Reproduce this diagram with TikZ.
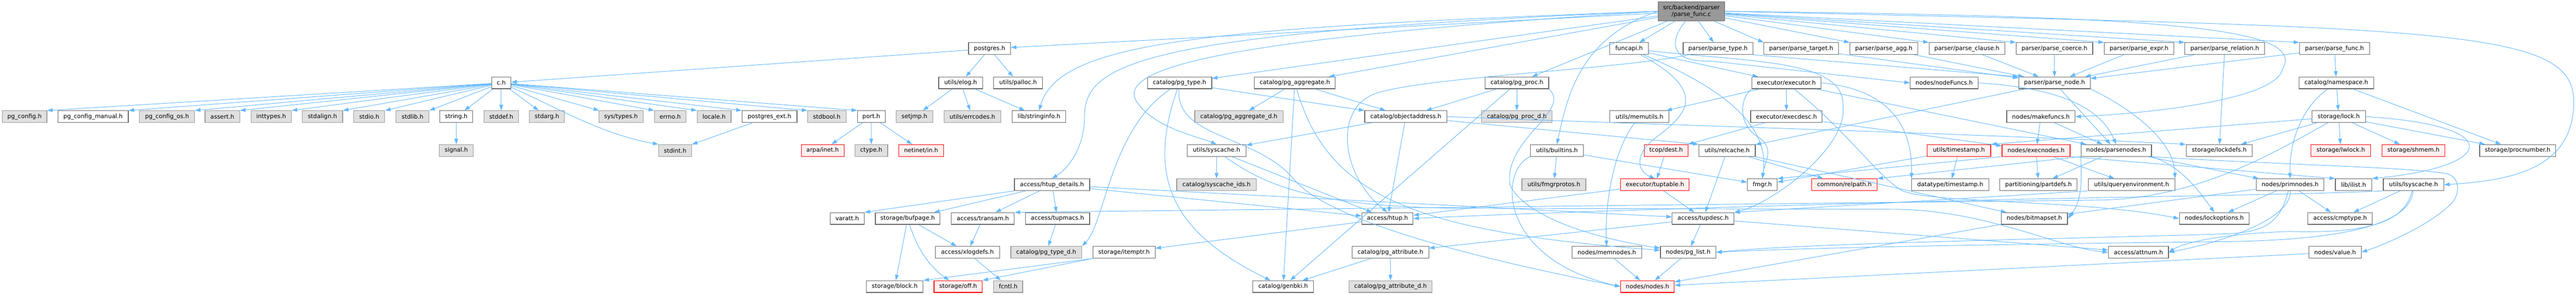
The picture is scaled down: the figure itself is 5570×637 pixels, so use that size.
\documentclass[tikz,border=0pt]{standalone}
\usepackage{fontspec}
\setmainfont{DejaVu Sans}
\usepackage{xcolor}
\definecolor{doxyedge}{HTML}{63B8FF}
\definecolor{doxyborder}{HTML}{666666}
\definecolor{doxysysfill}{HTML}{E0E0E0}
\definecolor{doxysysborder}{HTML}{999999}
\definecolor{doxycutfill}{HTML}{FFF0F0}
\definecolor{doxyrootfill}{HTML}{999999}
\usepackage{tikz}
\usetikzlibrary{%
      arrows.meta%
  }

\tikzset{
    hdrbase/.style={rectangle, inner sep=0pt, minimum height=19pt, line width=1pt, font=\fontsize{9.6}{11.3}\selectfont},
    hdr/.style={hdrbase, draw=doxyborder, fill=white},
    syshdr/.style={hdrbase, draw=doxysysborder, fill=doxysysfill},
    cuthdr/.style={hdrbase, draw=red, fill=doxycutfill},
    roothdr/.style={hdrbase, draw=doxyborder, fill=doxyrootfill, align=center, minimum height=30.5pt},
    dep/.style={draw=doxyedge, line width=0.8pt, -{Triangle[length=9pt,width=6pt]}}
}

\begin{document}
\begin{tikzpicture}[x=0.75pt, y=-0.75pt]
    \useasboundingbox (0,0) rectangle (5570,637);
    \fill[white] (0,0) rectangle (5570,637);

    % rank 0
    \node[roothdr, minimum width=108.2pt] (pf) at (3657.2,24.4) {src/backend/parser\\/parse\_func.c};

    % rank 1
    \node[hdr, minimum width=68pt] (postgres) at (2139.7,105) {postgres.h};
    \node[hdr, minimum width=62.3pt] (funcapi) at (3522.5,105) {funcapi.h};
    \node[hdr, minimum width=113pt] (parsetype) at (3714.7,105) {parser/parse\_type.h};
    \node[hdr, minimum width=120.8pt] (parsetarget) at (3894.5,105) {parser/parse\_target.h};
    \node[hdr, minimum width=110pt] (parseagg) at (4073.3,105) {parser/parse\_agg.h};
    \node[hdr, minimum width=123pt] (parseclause) at (4253,105) {parser/parse\_clause.h};
    \node[hdr, minimum width=124pt] (parsecoerce) at (4442.3,105) {parser/parse\_coerce.h};
    \node[hdr, minimum width=112.7pt] (parseexpr) at (4625.2,105) {parser/parse\_expr.h};
    \node[hdr, minimum width=129.3pt] (parserel) at (4810.5,105) {parser/parse\_relation.h};
    \node[hdr, minimum width=113.3pt] (parsefunch) at (5047.8,105) {parser/parse\_func.h};

    % rank 2
    \node[hdr, minimum width=31.3pt] (ch) at (1083.8,179) {c.h};
    \node[hdr, minimum width=71.3pt] (elog) at (2077.2,179) {utils/elog.h};
    \node[hdr, minimum width=79pt] (palloc) at (2201.3,179) {utils/palloc.h};
    \node[hdr, minimum width=104.3pt] (pgtype) at (2550.5,179) {catalog/pg\_type.h};
    \node[hdr, minimum width=131.3pt] (pgagg) at (2799.8,179) {catalog/pg\_aggregate.h};
    \node[hdr, minimum width=103pt] (pgproc) at (3280,179) {catalog/pg\_proc.h};
    \node[hdr, minimum width=112.2pt] (executor) at (3862.5,179) {executor/executor.h};
    \node[hdr, minimum width=110pt] (nodefuncs) at (4203.7,179) {nodes/nodeFuncs.h};
    \node[hdr, minimum width=116pt] (parsenode) at (4442.3,179) {parser/parse\_node.h};
    \node[hdr, minimum width=121.3pt] (namespace) at (5051.8,179) {catalog/namespace.h};

    % rank 3
    \node[syshdr, minimum width=72.5pt] (pgconfig) at (53,252) {pg\_config.h};
    \node[hdr, minimum width=114.2pt] (pgconfigman) at (201.2,252) {pg\_config\_manual.h};
    \node[syshdr, minimum width=89.3pt] (pgconfigos) at (361.2,252) {pg\_config\_os.h};
    \node[syshdr, minimum width=56.3pt] (assert) at (480.8,252) {assert.h};
    \node[syshdr, minimum width=65.3pt] (inttypes) at (586.5,252) {inttypes.h};
    \node[syshdr, minimum width=65.3pt] (stdalign) at (697.2,252) {stdalign.h};
    \node[syshdr, minimum width=50.3pt] (stdio) at (798.5,252) {stdio.h};
    \node[syshdr, minimum width=53.6pt] (stdlib) at (892,252) {stdlib.h};
    \node[hdr, minimum width=53.3pt] (string) at (986.5,252) {string.h};
    \node[syshdr, minimum width=56.3pt] (stddef) at (1083.8,252) {stddef.h};
    \node[syshdr, minimum width=56.5pt] (stdarg) at (1182.7,252) {stdarg.h};
    \node[syshdr, minimum width=72pt] (systypes) at (1342.7,252) {sys/types.h};
    \node[syshdr, minimum width=51.2pt] (errno) at (1449.2,252) {errno.h};
    \node[syshdr, minimum width=55pt] (locale) at (1544,252) {locale.h};
    \node[hdr, minimum width=89.3pt] (pgext) at (1663.8,252) {postgres\_ext.h};
    \node[syshdr, minimum width=62.3pt] (stdbool) at (1787.8,252) {stdbool.h};
    \node[hdr, minimum width=45pt] (port) at (1884,252) {port.h};
    \node[syshdr, minimum width=59.3pt] (setjmp) at (1977.2,252) {setjmp.h};
    \node[syshdr, minimum width=92.3pt] (errcodes) at (2102.5,252) {utils/errcodes.h};
    \node[hdr, minimum width=87pt] (stringinfo) at (2246.7,252) {lib/stringinfo.h};
    \node[syshdr, minimum width=143pt] (pgaggd) at (2678.7,252) {catalog/pg\_aggregate\_d.h};
    \node[hdr, minimum width=133.3pt] (objaddr) at (3039.8,252) {catalog/objectaddress.h};
    \node[syshdr, minimum width=114.2pt] (pgprocd) at (3279.8,252) {catalog/pg\_proc\_d.h};
    \node[hdr, minimum width=96pt] (memutils) at (3545,252) {utils/memutils.h};
    \node[hdr, minimum width=116pt] (execdesc) at (3862.7,252) {executor/execdesc.h};
    \node[hdr, minimum width=111pt] (makefuncs) at (4413,252) {nodes/makefuncs.h};
    \node[hdr, minimum width=86.4pt] (lock) at (5056.9,252) {storage/lock.h};

    % rank 4
    \node[syshdr, minimum width=55.2pt] (signal) at (986.5,325) {signal.h};
    \node[syshdr, minimum width=53.3pt] (stdint) at (1459.8,325) {stdint.h};
    \node[cuthdr, minimum width=69.5pt] (arpa) at (1778.7,325) {arpa/inet.h};
    \node[syshdr, minimum width=53.3pt] (ctype) at (1883.8,325) {ctype.h};
    \node[cuthdr, minimum width=72.5pt] (netinet) at (1991.7,325) {netinet/in.h};
    \node[hdr, minimum width=95.3pt] (syscache) at (2630.5,325) {utils/syscache.h};
    \node[hdr, minimum width=86.3pt] (builtins) at (3366.5,325) {utils/builtins.h};
    \node[cuthdr, minimum width=71.3pt] (dest) at (3602.5,325) {tcop/dest.h};
    \node[hdr, minimum width=91.2pt] (relcache) at (3734.5,325) {utils/relcache.h};
    \node[cuthdr, minimum width=103pt] (utimestamp) at (4235.7,325) {utils/timestamp.h};
    \node[cuthdr, minimum width=110.3pt] (execnodes) at (4402.5,325) {nodes/execnodes.h};
    \node[hdr, minimum width=114.2pt] (parsenodes) at (4575.8,325) {nodes/parsenodes.h};
    \node[hdr, minimum width=107.3pt] (lockdefs) at (4798.5,325) {storage/lockdefs.h};
    \node[cuthdr, minimum width=97pt] (lwlock) at (5061.3,325) {storage/lwlock.h};
    \node[cuthdr, minimum width=102.3pt] (shmem) at (5218.5,325) {storage/shmem.h};
    \node[hdr, minimum width=123.2pt] (procnumber) at (5443.8,325) {storage/procnumber.h};

    % rank 5
    \node[hdr, minimum width=122pt] (htupdet) at (2274.7,399) {access/htup\_details.h};
    \node[syshdr, minimum width=129.3pt] (syscacheids) at (2630.5,399) {catalog/syscache\_ids.h};
    \node[syshdr, minimum width=103.7pt] (fmgrprotos) at (3359.8,399) {utils/fmgrprotos.h};
    \node[cuthdr, minimum width=111pt] (tuptable) at (3578.3,399) {executor/tuptable.h};
    \node[hdr, minimum width=48.3pt] (fmgr) at (3810.5,399) {fmgr.h};
    \node[cuthdr, minimum width=106pt] (relpath) at (3988,399) {common/relpath.h};
    \node[hdr, minimum width=125pt] (dtimestamp) at (4217,399) {datatype/timestamp.h};
    \node[hdr, minimum width=125pt] (partdefs) at (4407.7,399) {partitioning/partdefs.h};
    \node[hdr, minimum width=140pt] (queryenv) at (4609,399) {utils/queryenvironment.h};
    \node[hdr, minimum width=110pt] (primnodes) at (4951.7,399) {nodes/primnodes.h};
    \node[hdr, minimum width=59pt] (ilist) at (5089,399) {lib/ilist.h};
    \node[hdr, minimum width=98pt] (lsyscache) at (5218.7,399) {utils/lsyscache.h};

    % rank 6
    \node[hdr, minimum width=55.3pt] (varatt) at (1831.8,472) {varatt.h};
    \node[hdr, minimum width=105pt] (bufpage) at (1962.7,472) {storage/bufpage.h};
    \node[hdr, minimum width=102pt] (transam) at (2125.3,472) {access/transam.h};
    \node[hdr, minimum width=104.3pt] (tupmacs) at (2286.5,472) {access/tupmacs.h};
    \node[hdr, minimum width=83pt] (htup) at (3000,472) {access/htup.h};
    \node[hdr, minimum width=100.2pt] (tupdesc) at (3682.5,472) {access/tupdesc.h};
    \node[hdr, minimum width=107.3pt] (bitmapset) at (4398.8,472) {nodes/bitmapset.h};
    \node[hdr, minimum width=113.3pt] (lockoptions) at (4787.8,472) {nodes/lockoptions.h};
    \node[hdr, minimum width=104.3pt] (cmptype) at (5059.8,472) {access/cmptype.h};

    % rank 7
    \node[hdr, minimum width=104.3pt] (xlogdefs) at (2091.8,545) {access/xlogdefs.h};
    \node[syshdr, minimum width=115pt] (pgtyped) at (2262.3,545) {catalog/pg\_type\_d.h};
    \node[hdr, minimum width=100.8pt] (itemptr) at (2430.5,545) {storage/itemptr.h};
    \node[hdr, minimum width=124.2pt] (pgattr) at (3006.5,545) {catalog/pg\_attribute.h};
    \node[hdr, minimum width=113.3pt] (memnodes) at (3474.5,545) {nodes/memnodes.h};
    \node[hdr, minimum width=90pt] (pglist) at (3650.3,545) {nodes/pg\_list.h};
    \node[hdr, minimum width=97.3pt] (attnum) at (4623.8,545) {access/attnum.h};
    \node[hdr, minimum width=85pt] (value) at (5049,545) {nodes/value.h};

    % rank 8
    \node[hdr, minimum width=92.3pt] (block) at (1934.5,619) {storage/block.h};
    \node[cuthdr, minimum width=78.2pt] (off) at (2071.8,619) {storage/off.h};
    \node[syshdr, minimum width=47pt] (fcntl) at (2180,619) {fcntl.h};
    \node[hdr, minimum width=98.3pt] (genbki) at (2774.5,619) {catalog/genbki.h};
    \node[syshdr, minimum width=135pt] (pgattrd) at (3006.7,619) {catalog/pg\_attribute\_d.h};
    \node[cuthdr, minimum width=87pt] (nodes) at (3562.3,619) {nodes/nodes.h};

    % parse_func.c
    \draw[dep] (pf) -- (postgres);
    \draw[dep] (pf.west) .. controls (2500,70) and (2345,130) .. (2345,250) .. controls (2345,330) and (2300,370) .. (htupdet.north);
    \draw[dep] (pf) -- (pgagg);
    \draw[dep] (pf) -- (pgproc);
    \draw[dep] (pf) -- (pgtype);
    \draw[dep] (pf) -- (funcapi);
    \draw[dep] (pf.west) .. controls (2600,60) and (2290,90) .. (stringinfo.north);
    \draw[dep] (pf.east) .. controls (4700,35) and (4990,60) .. (4935,150) .. controls (4920,215) and (4650,245) .. (makefuncs.east);
    \draw[dep] (pf.240) .. controls (3615,80) and (3600,135) .. (3700,132) -- (nodefuncs.west);
    \draw[dep] (pf) -- (parseagg.north west);
    \draw[dep] (pf) -- (parseclause.north west);
    \draw[dep] (pf) -- (parsecoerce.north west);
    \draw[dep] (pf) -- (parseexpr.north west);
    \draw[dep] (pf) -- (parsefunch.north west);
    \draw[dep] (pf) -- (parserel.north west);
    \draw[dep] (pf) -- (parsetarget.north west);
    \draw[dep] (pf) -- (parsetype);
    \draw[dep] (pf.west) .. controls (3420,80) and (3390,200) .. (builtins.north);
    \draw[dep] (pf.east) .. controls (5300,60) and (5565,60) .. (5565,220) .. controls (5565,370) and (5420,390) .. (lsyscache.east);
    \draw[dep] (pf.west) .. controls (2700,80) and (2420,140) .. (2455,215) .. controls (2490,275) and (2590,295) .. (syscache.north);

    % postgres.h and c.h
    \draw[dep] (postgres) -- (ch);
    \draw[dep] (postgres) -- (elog);
    \draw[dep] (postgres) -- (palloc);
    \draw[dep] (ch) -- (pgconfig.north east);
    \draw[dep] (ch) -- (pgconfigman.north east);
    \draw[dep] (ch) -- (pgconfigos.north east);
    \draw[dep] (ch) -- (assert.north east);
    \draw[dep] (ch) -- (inttypes.north east);
    \draw[dep] (ch) -- (stdalign.north east);
    \draw[dep] (ch) -- (stdio.north east);
    \draw[dep] (ch) -- (stdlib.north east);
    \draw[dep] (ch) -- (string);
    \draw[dep] (ch) -- (stddef);
    \draw[dep] (ch) -- (stdarg);
    \draw[dep] (ch) -- (systypes);
    \draw[dep] (ch) -- (errno.north west);
    \draw[dep] (ch) -- (locale.north west);
    \draw[dep] (ch) -- (pgext.north west);
    \draw[dep] (ch) -- (stdbool.north west);
    \draw[dep] (ch) -- (port.north west);
    \draw[dep] (ch) .. controls (1200,230) and (1300,290) .. (stdint.north west);
    \draw[dep] (string) -- (signal);
    \draw[dep] (pgext) -- (stdint);
    \draw[dep] (port) -- (arpa);
    \draw[dep] (port) -- (ctype);
    \draw[dep] (port) -- (netinet);
    \draw[dep] (elog) -- (setjmp);
    \draw[dep] (elog) -- (errcodes);
    \draw[dep] (elog) -- (stringinfo);

    % access
    \draw[dep] (htupdet.south west) -- (varatt.north east);
    \draw[dep] (htupdet) -- (bufpage);
    \draw[dep] (htupdet) -- (transam);
    \draw[dep] (htupdet) -- (tupmacs);
    \draw[dep] (htupdet) -- (htup);
    \draw[dep] (htupdet) -- (tupdesc);
    \draw[dep] (bufpage) -- (block);
    \draw[dep] (bufpage) .. controls (1990,560) and (2030,590) .. (off);
    \draw[dep] (bufpage) -- (xlogdefs);
    \draw[dep] (transam) -- (xlogdefs);
    \draw[dep] (xlogdefs) -- (fcntl);
    \draw[dep] (tupmacs) -- (pgtyped);
    \draw[dep] (htup) -- (itemptr);
    \draw[dep] (itemptr.south west) -- (block.north east);
    \draw[dep] (itemptr.south west) -- (off.north east);
    \draw[dep] (tupdesc) -- (attnum);
    \draw[dep] (tupdesc) -- (pgattr);
    \draw[dep] (tupdesc) -- (pglist);
    \draw[dep] (pgattr) -- (genbki);
    \draw[dep] (pgattr) -- (pgattrd);
    \draw[dep] (pglist) -- (nodes);
    \draw[dep] (memnodes) -- (nodes);

    % catalog
    \draw[dep] (pgtype) .. controls (2480,380) and (2530,500) .. (genbki);
    \draw[dep] (pgtype) -- (objaddr);
    \draw[dep] (pgtype) .. controls (2400,280) and (2390,480) .. (pgtyped.north east);
    \draw[dep] (pgtype) .. controls (2540,300) and (2720,290) .. (2800,390) .. controls (2880,480) and (3200,560) .. (nodes.west);
    \draw[dep] (pgagg) -- (genbki);
    \draw[dep] (pgagg) -- (objaddr);
    \draw[dep] (pgagg) -- (pgaggd);
    \draw[dep] (pgagg) .. controls (2870,420) and (3050,500) .. (pglist);
    \draw[dep] (pgproc) -- (genbki);
    \draw[dep] (pgproc) -- (objaddr);
    \draw[dep] (pgproc) -- (pgprocd);
    \draw[dep] (pgproc.south east) .. controls (3400,240) and (3250,300) .. (3265,400) .. controls (3300,470) and (3450,515) .. (pglist);
    \draw[dep] (objaddr) -- (htup);
    \draw[dep] (objaddr.east) .. controls (3600,270) and (4300,290) .. (lockdefs.north west);
    \draw[dep] (objaddr) -- (relcache.north west);
    \draw[dep] (objaddr) -- (syscache);

    % funcapi.h and executor
    \draw[dep] (funcapi) .. controls (3800,135) and (3990,130) .. (3985,230) .. controls (3995,320) and (3830,440) .. (tupdesc.north east);
    \draw[dep] (funcapi) -- (executor);
    \draw[dep] (funcapi) .. controls (3700,200) and (3640,250) .. (3590,290) .. controls (3530,330) and (3540,370) .. (tuptable.north);
    \draw[dep] (funcapi) .. controls (3700,180) and (3830,260) .. (fmgr.north);
    \draw[dep] (executor) -- (execdesc);
    \draw[dep] (executor.south west) .. controls (3760,215) and (3760,270) .. (3800,295) .. controls (3840,320) and (3815,350) .. (fmgr.north);
    \draw[dep] (executor) .. controls (3990,280) and (4060,380) .. (4110,410) .. controls (4160,440) and (4500,430) .. (lockoptions.west);
    \draw[dep] (executor) -- (parsenodes);
    \draw[dep] (executor) -- (memutils);
    \draw[dep] (executor.east) .. controls (4110,195) and (4135,300) .. (dtimestamp.north west);
    \draw[dep] (execdesc) -- (execnodes);
    \draw[dep] (execdesc) -- (dest);
    \draw[dep] (dest) -- (tuptable);
    \draw[dep] (tuptable) -- (htup);
    \draw[dep] (tuptable) -- (tupdesc);
    \draw[dep] (memutils) .. controls (3485,330) and (3470,450) .. (memnodes);

    % nodes
    \draw[dep] (execnodes.south west) -- (fmgr.north east);
    \draw[dep] (execnodes.south east) -- (ilist.north west);
    \draw[dep] (execnodes) -- (partdefs);
    \draw[dep] (execnodes) -- (queryenv);
    \draw[dep] (parsenodes.south west) -- (relpath.north east);
    \draw[dep] (parsenodes.south west) .. controls (4500,380) and (4505,430) .. (bitmapset.east);
    \draw[dep] (parsenodes.south east) .. controls (4720,360) and (4760,420) .. (lockoptions.north);
    \draw[dep] (parsenodes) -- (primnodes);
    \draw[dep] (parsenodes.south east) .. controls (4900,355) and (5200,360) .. (5290,375) .. controls (5320,382) and (5320,420) .. (5300,440) .. controls (5250,490) and (5150,530) .. (value.east);
    \draw[dep] (parsenodes) -- (partdefs);
    \draw[dep] (primnodes) .. controls (4955,470) and (4820,520) .. (attnum.east);
    \draw[dep] (primnodes) -- (cmptype);
    \draw[dep] (primnodes) -- (bitmapset);
    \draw[dep] (primnodes) -- (lockoptions);
    \draw[dep] (primnodes) .. controls (4930,480) and (4900,500) .. (4820,505) .. controls (4500,515) and (3900,525) .. (pglist.east);
    \draw[dep] (value) -- (nodes);
    \draw[dep] (bitmapset) -- (nodes);
    \draw[dep] (queryenv.south west) -- (tupdesc.north east);
    \draw[dep] (makefuncs) -- (execnodes);
    \draw[dep] (makefuncs) -- (parsenodes);
    \draw[dep] (nodefuncs.east) .. controls (4450,190) and (4540,230) .. (parsenodes.north);

    % utils
    \draw[dep] (relcache) -- (tupdesc);
    \draw[dep] (relcache) -- (relpath);
    \draw[dep] (relcache) -- (bitmapset);
    \draw[dep] (syscache) .. controls (2760,420) and (2900,450) .. (3200,450) -- (4100,452) .. controls (4300,455) and (4450,535) .. (attnum.west);
    \draw[dep] (syscache) -- (htup);
    \draw[dep] (syscache) -- (syscacheids);
    \draw[dep] (builtins) -- (fmgr);
    \draw[dep] (builtins.south west) .. controls (3240,370) and (3240,560) .. (nodes.west);
    \draw[dep] (builtins) -- (fmgrprotos);
    \draw[dep] (utimestamp) -- (dtimestamp);
    \draw[dep] (utimestamp) -- (fmgr);
    \draw[dep] (lsyscache) .. controls (5200,480) and (5120,505) .. (4950,500) .. controls (4800,505) and (4720,525) .. (attnum.east);
    \draw[dep] (lsyscache) -- (cmptype);
    \draw[dep] (lsyscache.south west) .. controls (5000,420) and (4600,425) .. (4300,432) .. controls (3800,445) and (3300,460) .. (htup.east);
    \draw[dep] (lsyscache) .. controls (5210,500) and (5000,520) .. (4800,522) .. controls (4300,528) and (3900,535) .. (pglist.east);

    % parser
    \draw[dep] (parsenode) -- (parsenodes);
    \draw[dep] (parsenode.south east) .. controls (4600,230) and (4700,300) .. (queryenv.north east);
    \draw[dep] (parsenode) -- (relcache);
    \draw[dep] (parseagg) -- (parsenode);
    \draw[dep] (parseclause) -- (parsenode);
    \draw[dep] (parsecoerce) -- (parsenode);
    \draw[dep] (parseexpr) -- (parsenode);
    \draw[dep] (parsetarget) -- (parsenode);
    \draw[dep] (parserel) -- (parsenode);
    \draw[dep] (parserel) -- (lockdefs);
    \draw[dep] (parsefunch) -- (namespace);
    \draw[dep] (parsefunch) -- (parsenode);
    \draw[dep] (parsetype.south east) -- (parsenode.north west);
    \draw[dep] (parsetype) .. controls (3500,150) and (3100,165) .. (2980,200) .. controls (2880,230) and (2900,380) .. (htup.north);

    % catalog/namespace.h and storage/lock.h
    \draw[dep] (namespace) .. controls (4980,230) and (4950,300) .. (primnodes.north);
    \draw[dep] (namespace) -- (lock);
    \draw[dep] (namespace) -- (procnumber);
    \draw[dep] (lock) .. controls (4900,340) and (4750,425) .. (4550,432) -- (transam.north east);
    \draw[dep] (lock.east) .. controls (5420,270) and (5400,360) .. (ilist.north east);
    \draw[dep] (lock) -- (lockdefs);
    \draw[dep] (lock) -- (lwlock);
    \draw[dep] (lock) -- (procnumber);
    \draw[dep] (lock) -- (shmem);
    \draw[dep] (lock) -- (utimestamp.north east);
\end{tikzpicture}
\end{document}
